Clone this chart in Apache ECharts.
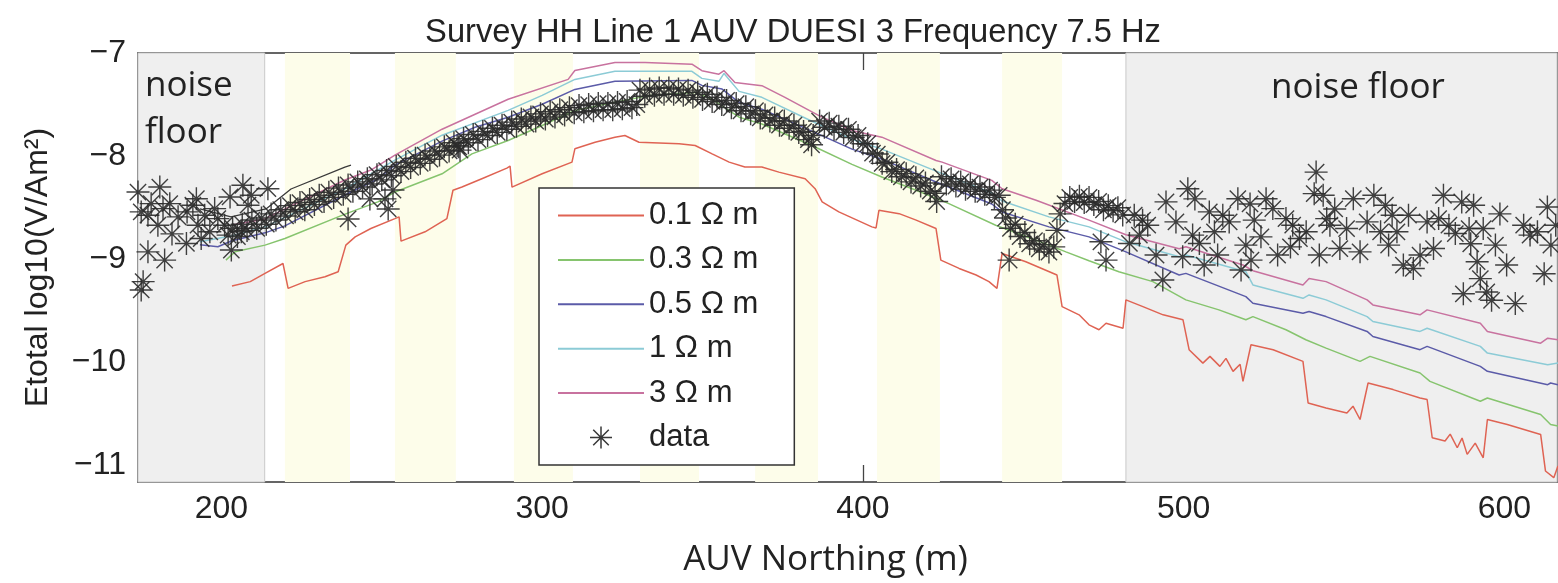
<!DOCTYPE html>
<html><head><meta charset="utf-8">
<script src="https://cdn.jsdelivr.net/npm/echarts@6/dist/echarts.min.js"></script>
<style>html,body{margin:0;padding:0;background:#fff}#c{width:1558px;height:583px}</style>
</head><body><div id="c"></div>
<script>
// ---------- data ----------
const xTicks = [200, 300, 400, 500, 600];
const yTicks = [-11, -10, -9, -8, -7];
const seriesNames = ['0.1 Ω m', '0.3 Ω m', '0.5 Ω m', '1 Ω m', '3 Ω m'];
const noiseRegions = [[174, 213.5], [482, 616.4]];
const yellowBands = [[219.8, 240.1], [254.1, 273.1], [291.2, 309.6], [330.5, 348.9], [366.4, 386], [404.4, 424], [443.4, 462.1]];

const rho01 = [[203.3,-9.259],[209.0,-9.217],[213.6,-9.137],[219.2,-9.041],[220.8,-9.282],[226.1,-9.217],[232.3,-9.169],[236.4,-9.121],[238.8,-8.863],[241.7,-8.783],[246.6,-8.702],[254.1,-8.606],[255.4,-8.589],[256.0,-8.824],[263.5,-8.734],[270.3,-8.606],[272.2,-8.331],[275.0,-8.300],[281.2,-8.219],[289.0,-8.116],[290.0,-8.097],[290.6,-8.300],[300.0,-8.171],[309.3,-8.058],[310.2,-7.929],[316.5,-7.865],[322.7,-7.816],[325.8,-7.800],[330.2,-7.865],[342.7,-7.881],[347.7,-7.897],[353.0,-7.978],[358.3,-8.058],[363.2,-8.106],[368.5,-8.106],[373.8,-8.155],[382.0,-8.219],[385.1,-8.316],[387.3,-8.444],[392.5,-8.541],[402.8,-8.686],[404.1,-8.696],[405.0,-8.525],[411.3,-8.558],[416.6,-8.621],[422.8,-8.702],[424.3,-9.008],[430.0,-9.089],[435.3,-9.153],[439.3,-9.217],[441.8,-9.282],[443.4,-8.944],[450.8,-9.024],[460.5,-9.153],[462.1,-9.459],[467.4,-9.539],[470.5,-9.636],[473.6,-9.684],[475.8,-9.620],[481.1,-9.669],[482.0,-9.394],[487.3,-9.459],[493.6,-9.539],[499.8,-9.587],[501.7,-9.877],[506.0,-10.007],[508.2,-9.942],[511.3,-10.039],[513.2,-9.961],[515.4,-10.087],[517.6,-10.019],[518.5,-10.184],[521.0,-9.829],[527.9,-9.877],[537.2,-9.990],[538.8,-10.393],[544.4,-10.442],[550.9,-10.490],[552.8,-10.425],[555.0,-10.554],[557.5,-10.200],[565.3,-10.264],[573.7,-10.345],[575.9,-10.360],[577.5,-10.731],[581.5,-10.763],[583.1,-10.696],[585.3,-10.828],[586.8,-10.734],[588.4,-10.892],[590.9,-10.783],[593.4,-10.925],[594.7,-10.554],[600.9,-10.602],[611.3,-10.699],[612.8,-11.053],[615.4,-11.118],[616.7,-11.005]];

const rho03 = [[201.4,-9.008],[204.2,-8.928],[213.6,-8.863],[219.8,-8.799],[236.4,-8.589],[240.4,-8.541],[248.8,-8.444],[254.1,-8.348],[268.8,-8.171],[278.1,-7.978],[289.4,-7.848],[300.0,-7.703],[310.2,-7.558],[322.7,-7.478],[333.6,-7.411],[347.7,-7.382],[353.0,-7.449],[361.4,-7.623],[368.5,-7.688],[384.1,-7.897],[396.6,-8.080],[405.9,-8.203],[416.6,-8.331],[426.8,-8.461],[441.4,-8.670],[454.0,-8.815],[463.3,-8.928],[470.5,-9.015],[479.8,-9.121],[490.4,-9.217],[500.7,-9.394],[511.0,-9.491],[519.4,-9.587],[521.6,-9.556],[531.9,-9.684],[538.1,-9.781],[544.4,-9.862],[555.0,-9.990],[558.1,-9.942],[573.7,-10.103],[576.8,-10.184],[592.5,-10.377],[594.7,-10.345],[611.3,-10.505],[614.4,-10.602],[616.7,-10.618]];

const rho05 = [[193.3,-8.860],[198.9,-8.879],[203.3,-8.821],[213.6,-8.744],[219.8,-8.676],[238.5,-8.377],[248.8,-8.222],[254.1,-8.087],[268.8,-7.855],[279.1,-7.720],[289.4,-7.623],[300.0,-7.497],[310.2,-7.353],[322.7,-7.275],[346.7,-7.266],[349.8,-7.314],[356.1,-7.350],[361.4,-7.478],[368.5,-7.546],[384.1,-7.758],[396.6,-7.932],[405.9,-8.029],[422.8,-8.251],[440.2,-8.464],[443.4,-8.541],[458.0,-8.686],[470.5,-8.783],[482.0,-8.928],[498.6,-9.153],[500.7,-9.137],[519.4,-9.362],[521.6,-9.427],[537.2,-9.524],[539.1,-9.507],[544.4,-9.556],[557.2,-9.700],[559.0,-9.749],[573.7,-9.877],[575.9,-9.845],[592.5,-10.039],[594.7,-10.087],[613.5,-10.216],[614.4,-10.200],[616.7,-10.216]];

const rho1 = [[193.3,-8.831],[203.3,-8.773],[213.6,-8.686],[238.5,-8.319],[254.1,-8.039],[268.8,-7.797],[289.4,-7.556],[300.0,-7.411],[310.2,-7.256],[322.7,-7.178],[346.7,-7.178],[349.8,-7.246],[355.1,-7.275],[356.7,-7.198],[361.4,-7.372],[368.5,-7.430],[384.1,-7.662],[396.6,-7.836],[405.9,-7.932],[422.8,-8.145],[440.2,-8.357],[443.4,-8.435],[458.0,-8.589],[470.5,-8.686],[482.0,-8.831],[498.6,-8.976],[500.7,-8.959],[519.4,-9.121],[521.6,-9.249],[537.2,-9.379],[539.1,-9.346],[544.4,-9.394],[557.2,-9.556],[559.0,-9.604],[573.7,-9.700],[575.9,-9.669],[592.5,-9.845],[594.7,-9.910],[613.5,-10.022],[616.7,-10.007]];

const rho3 = [[203.3,-8.667],[213.6,-8.609],[219.8,-8.512],[238.5,-8.232],[246.6,-8.135],[254.1,-7.990],[268.8,-7.739],[279.1,-7.594],[289.4,-7.449],[308.1,-7.256],[310.2,-7.169],[322.7,-7.092],[332.1,-7.092],[346.7,-7.108],[349.8,-7.172],[355.1,-7.205],[356.7,-7.172],[360.1,-7.285],[368.5,-7.317],[375.7,-7.430],[386.3,-7.607],[396.6,-7.752],[405.9,-7.816],[422.8,-8.042],[424.7,-8.058],[440.2,-8.235],[443.4,-8.316],[454.0,-8.428],[470.5,-8.621],[482.0,-8.763],[498.6,-8.899],[500.7,-8.879],[518.5,-9.056],[521.6,-9.111],[537.2,-9.249],[539.1,-9.186],[544.4,-9.217],[557.2,-9.394],[559.0,-9.443],[573.7,-9.539],[575.9,-9.491],[592.5,-9.620],[594.7,-9.700],[611.3,-9.814],[613.5,-9.765],[616.7,-9.781]];

const darkLine = [[193.3,-8.512],[203.0,-8.589],[213.9,-8.512],[221.7,-8.319],[238.5,-8.106],[240.4,-8.087]];

const dataLeft = [[174.0,-8.348],[175.0,-8.541],[180.8,-8.300],[178.1,-8.461],[181.8,-8.509],[183.9,-8.461],[180.2,-8.670],[177.1,-8.573],[186.5,-8.589],[192.2,-8.413],[191.1,-8.476],[194.8,-8.573],[192.7,-8.670],[197.9,-8.509],[198.9,-8.606],[196.4,-8.734],[193.7,-8.799],[189.1,-8.847],[201.0,-8.670],[202.1,-8.766],[206.7,-8.283],[209.3,-8.380],[208.3,-8.476],[214.5,-8.316],[206.2,-8.734],[203.1,-8.911],[177.1,-8.928],[182.3,-9.008],[175.6,-9.217],[175.0,-9.298],[184.6,-8.754],[189.3,-8.541],[202.7,-8.396]];

const dataTrackA = [[203.5,-8.70],[205,-8.78],[206.5,-8.66],[208,-8.72],[209.5,-8.62],[211,-8.70],[212.5,-8.60],[214,-8.66],[215.5,-8.56],[217,-8.62],[218.5,-8.52],[220,-8.58],[221.5,-8.48],[223,-8.54],[224.5,-8.45],[226,-8.52],[227.5,-8.42],[229,-8.47],[230.5,-8.38],[232,-8.44],[233.5,-8.35],[235,-8.40],[236.5,-8.31],[238,-8.37],[239.5,-8.28],[241,-8.34],[242.5,-8.25],[244,-8.30],[245.5,-8.22],[247,-8.27],[248.5,-8.18],[250,-8.23],[251.5,-8.14],[253,-8.19],[254.5,-8.10],[256,-8.15],[257.5,-8.06],[259,-8.11],[260.5,-8.02],[262,-8.07],[263.5,-7.99],[265,-8.03],[266.5,-7.95],[268,-7.99],[269.5,-7.91],[271,-7.95],[272.5,-7.87],[274,-7.91],[275.5,-7.83],[277,-7.87],[278.5,-7.79],[280,-7.84],[281.5,-7.76],[283,-7.80],[284.5,-7.73],[286,-7.77],[287.5,-7.70],[289,-7.74],[290.5,-7.67],[292,-7.71],[293.5,-7.64],[295,-7.69],[296.5,-7.62],[298,-7.66],[299.5,-7.59],[301,-7.64],[302.5,-7.57],[304,-7.62],[305.5,-7.55],[307,-7.60],[308.5,-7.53],[310,-7.58],[311.5,-7.51],[313,-7.57],[314.5,-7.50],[316,-7.56],[317.5,-7.49],[319,-7.55],[320.5,-7.49],[322,-7.55],[323.5,-7.48],[325,-7.54],[326.5,-7.47],[328,-7.53],[329.5,-7.50]];

const dataTrackB = [[330.5,-7.36],[332,-7.42],[333.5,-7.35],[335,-7.41],[336.5,-7.34],[338,-7.40],[339.5,-7.34],[341,-7.40],[342.5,-7.35],[344,-7.41],[345.5,-7.36],[347,-7.43],[348.5,-7.38],[350,-7.45],[351.5,-7.40],[353,-7.47],[354.5,-7.43],[356,-7.50],[357.5,-7.46],[359,-7.53],[360.5,-7.49],[362,-7.56],[363.5,-7.52],[365,-7.59],[366.5,-7.56],[368,-7.63],[369.5,-7.60],[371,-7.66],[372.5,-7.63],[374,-7.70],[375.5,-7.66],[377,-7.73],[378.5,-7.70],[380,-7.77],[381.5,-7.76],[383,-7.84],[384,-7.89],[384.5,-7.80],[386.5,-7.66],[388,-7.72],[389.5,-7.68],[391,-7.74],[392.5,-7.71],[394,-7.77],[395.5,-7.74],[397,-7.82],[398.5,-7.80],[400,-7.88],[401.5,-7.88],[403,-7.97],[404.5,-7.98],[406,-8.07],[407.5,-8.06],[409,-8.15],[410.5,-8.13],[412,-8.20],[413.5,-8.17],[415,-8.25],[416.5,-8.21],[418,-8.29],[419.5,-8.26],[421,-8.34],[422.5,-8.36],[423,-8.44],[424.5,-8.20],[426,-8.27],[427.5,-8.22],[429,-8.29],[430.5,-8.25],[432,-8.32],[433.5,-8.27],[435,-8.34],[436.5,-8.30],[438,-8.37],[439.5,-8.33],[441,-8.40],[442.5,-8.38],[443.5,-8.52],[444.5,-8.60],[446,-8.70],[447.5,-8.66],[449,-8.78],[450.5,-8.74],[452,-8.85],[453.5,-8.82],[455,-8.90],[456.5,-8.86],[458,-8.93],[459.5,-8.88],[460.5,-8.72],[461.5,-8.56],[463,-8.46],[464.5,-8.40],[466,-8.44],[467.5,-8.39],[469,-8.45],[470.5,-8.40],[472,-8.47],[473.5,-8.44],[475,-8.52],[476.5,-8.48],[478,-8.53],[479.5,-8.50],[481,-8.57]];

const dataOutliers = [[239.5,-8.609],[252.0,-8.512],[253.5,-8.329],[251.0,-8.415],[246.3,-8.415],[274.4,-7.942],[273.5,-7.90],[445.6,-9.008],[474.2,-8.831],[475.8,-9.008]];

const dataRight = [[484.6,-8.573],[487.2,-8.621],[488.8,-8.670],[486.2,-8.766],[483.1,-8.847],[491.4,-8.959],[493.5,-9.201],[494.5,-8.444],[497.6,-8.638],[499.7,-8.976],[501.3,-8.316],[502.8,-8.766],[504.9,-8.847],[506.4,-9.056],[508.0,-8.541],[509.6,-8.734],[510.6,-8.959],[512.2,-8.573],[514.2,-8.638],[516.9,-8.413],[517.9,-9.104],[519.4,-8.863],[521.0,-9.008],[522.0,-8.621],[524.1,-8.783],[525.7,-8.413],[527.8,-8.509],[529.3,-8.959],[531.9,-8.606],[534.0,-8.670],[536.1,-8.799],[538.2,-8.734],[541.3,-8.155],[540.7,-8.364],[542.3,-8.959],[543.5,-8.380],[544.6,-8.606],[545.6,-8.670],[548.7,-8.896],[550.8,-8.702],[552.9,-8.413],[555.0,-8.928],[557.2,-8.638],[559.3,-8.380],[561.4,-8.734],[562.9,-8.476],[565.0,-8.573],[563.9,-8.863],[566.5,-8.734],[568.5,-9.056],[570.1,-8.573],[571.6,-9.089],[573.7,-8.959],[575.9,-8.638],[577.9,-8.896],[579.5,-8.606],[581.0,-8.380],[582.7,-8.670],[584.7,-8.751],[586.7,-8.444],[589.0,-8.702],[590.4,-8.476],[591.5,-9.024],[587.2,-9.335],[592.5,-9.188],[594.5,-9.317],[596.0,-9.398],[593.4,-8.702],[597.2,-8.863],[598.6,-8.560],[600.7,-9.056],[603.4,-9.430],[606.0,-8.670],[608.0,-8.766],[610.3,-8.734],[613.4,-8.493],[614.5,-8.863],[612.4,-9.140],[616.0,-8.670],[503.5,-8.415],[520.7,-8.464],[533.3,-8.880],[547.1,-8.512],[589.5,-8.850]];

// ---------- chart ----------
const chart = echarts.init(document.getElementById('c'), null, {renderer: 'canvas'});
const FONT = 'Liberation Sans, Arial, Helvetica, sans-serif';
const HUM = '"Open Sans", Lato, sans-serif';
const minus = v => (v < 0 ? '\u2212' : '') + Math.abs(v);
const lineColors = ['#df6353', '#86c46e', '#5b5ba8', '#8ccbd6', '#c8729f'];
const lineData = [rho01, rho03, rho05, rho1, rho3];
const STAR = 'path://M0,-10L0,10M-10,0L10,0M-7.07,-7.07L7.07,7.07M-7.07,7.07L7.07,-7.07';

const axisLineStyle = {color: '#333', width: 1.5};
const baseX = {type: 'value', min: 174, max: 616.4, splitLine: {show: false}};
const baseY = {type: 'value', min: -11.16, max: -7, splitLine: {show: false}};

const shadeAreas = [];
noiseRegions.forEach(r => shadeAreas.push([{xAxis: r[0], itemStyle: {color: '#efefef', borderColor: '#c9c9c9', borderWidth: 1}}, {xAxis: r[1]}]));
yellowBands.forEach(r => shadeAreas.push([{xAxis: r[0], itemStyle: {color: '#fdfdea', borderWidth: 0}}, {xAxis: r[1]}]));

const series = [{
  type: 'line', data: [], silent: true, z: 1,
  markArea: {silent: true, data: shadeAreas, label: {show: false}}
}];
seriesNames.forEach((n, i) => series.push({
  name: n, type: 'line', data: lineData[i], symbol: 'none', showSymbol: false,
  lineStyle: {color: lineColors[i], width: 1.5}, itemStyle: {color: lineColors[i]}, z: 3
}));
series.push({type: 'line', data: darkLine, symbol: 'none', lineStyle: {color: '#3a3a3a', width: 1.3}, z: 3});
series.push({
  name: 'data', type: 'scatter', symbol: STAR, symbolSize: 23,
  data: dataLeft.concat(dataTrackA, dataTrackB, dataOutliers, dataRight),
  itemStyle: {color: 'rgba(0,0,0,0)', borderColor: '#2b2b2b', borderWidth: 1.4, opacity: 0.9}, z: 4
});

const legendData = seriesNames.map(n => ({
  name: n,
  itemStyle: {color: 'rgba(0,0,0,0)', borderColor: 'rgba(0,0,0,0)', borderWidth: 0, opacity: 0}
}));
legendData.push({name: 'data', itemStyle: {color: 'rgba(0,0,0,0)', borderColor: '#222', borderWidth: 1.5}});

chart.setOption({
  animation: false,
  backgroundColor: '#fff',
  title: {
    text: 'Survey HH Line 1 AUV DUESI 3 Frequency 7.5 Hz',
    left: 788, textAlign: 'center', top: 11,
    textStyle: {fontFamily: FONT, fontSize: 32.7, fontWeight: 'normal', color: '#222'}
  },
  grid: {left: 138, right: 1, top: 53, bottom: 99, containLabel: false},
  xAxis: [
    Object.assign({}, baseX, {
      position: 'bottom',
      axisLine: {show: true, lineStyle: axisLineStyle},
      axisTick: {show: true, inside: true, length: 17, customValues: xTicks, lineStyle: {color: '#444', width: 1.3}},
      axisLabel: {show: true, customValues: xTicks, formatter: minus, fontFamily: FONT, fontSize: 32, color: '#222', margin: 11},
      name: 'AUV Northing (m)', nameLocation: 'middle', nameGap: 61,
      nameTextStyle: {fontFamily: HUM, fontSize: 35, color: '#222', padding: [0, 44, 0, 0]}
    }),
    Object.assign({}, baseX, {
      position: 'top',
      axisLine: {show: true, lineStyle: axisLineStyle},
      axisTick: {show: true, inside: true, length: 17, customValues: xTicks, lineStyle: {color: '#444', width: 1.3}},
      axisLabel: {show: false}
    })
  ],
  yAxis: [
    Object.assign({}, baseY, {
      position: 'left',
      axisLine: {show: true, lineStyle: axisLineStyle},
      axisTick: {show: true, inside: true, length: 17, customValues: yTicks, lineStyle: {color: '#444', width: 1.3}},
      axisLabel: {show: true, customValues: yTicks, formatter: minus, fontFamily: FONT, fontSize: 32, color: '#222', margin: 12},
      name: 'Etotal log10(V/Am²)', nameLocation: 'middle', nameGap: 84,
      nameTextStyle: {fontFamily: FONT, fontSize: 32, color: '#222'}
    }),
    Object.assign({}, baseY, {
      position: 'right',
      axisLine: {show: true, lineStyle: axisLineStyle},
      axisTick: {show: true, inside: true, length: 17, customValues: yTicks, lineStyle: {color: '#444', width: 1.3}},
      axisLabel: {show: false}
    })
  ],
  legend: {
    orient: 'vertical', left: 539, top: 188,
    padding: [12, 36, 12, 18], itemGap: 13.4, itemWidth: 86, itemHeight: 22,
    backgroundColor: '#fff', borderColor: '#333', borderWidth: 1.5,
    textStyle: {fontFamily: FONT, fontSize: 31, color: '#222'},
    data: legendData
  },
  graphic: [
    {type: 'text', x: 145, y: 86, z: 50, style: {text: 'noise', fontFamily: HUM, fontSize: 35, fill: '#222', align: 'left', verticalAlign: 'middle'}},
    {type: 'text', x: 145, y: 133, z: 50, style: {text: 'floor', fontFamily: HUM, fontSize: 35, fill: '#222', align: 'left', verticalAlign: 'middle'}},
    {type: 'text', x: 1358, y: 88, z: 50, style: {text: 'noise floor', fontFamily: HUM, fontSize: 35, fill: '#222', align: 'center', verticalAlign: 'middle'}}
  ],
  series: series
});
</script></body></html>
